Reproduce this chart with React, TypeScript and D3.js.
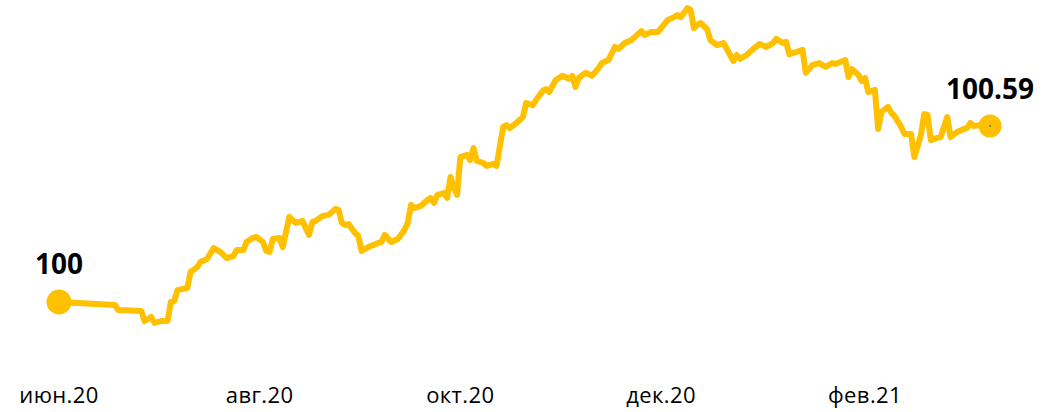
import React from "react";
import * as d3 from "d3";

// days since 1 June 2020 and index level on that day
const startDate = new Date(2020, 5, 1);
const days = [
  0, 17, 18, 25, 26, 28, 29, 31, 33, 34, 35, 36, 39, 40, 42, 43, 45, 47, 49, 51,
  53, 54, 56, 57, 59, 60, 62, 63, 64, 65, 67, 68, 70, 72, 74, 76, 77, 78, 80, 82,
  84, 85, 86, 87, 88, 90, 91, 92, 94, 97, 98, 99, 101, 103, 105, 106, 107, 108, 110, 112,
  113, 114, 115, 117, 118, 119, 120, 121, 122, 124, 125, 126, 127, 129, 130, 132, 133, 135, 136, 137,
  139, 141, 142, 144, 145, 147, 148, 149, 151, 153, 154, 155, 156, 157, 158, 160, 161, 162, 164, 165,
  167, 169, 170, 172, 174, 175, 177, 178, 180, 182, 183, 185, 187, 188, 189, 191, 192, 193, 194, 195,
  197, 198, 200, 202, 205, 206, 207, 209, 211, 213, 215, 217, 218, 220, 221, 222, 224, 226, 227, 229,
  231, 233, 235, 236, 239, 240, 241, 243, 244, 245, 246, 248, 249, 250, 252, 253, 254, 256, 257, 259,
  260, 262, 263, 264, 265, 267, 268, 270, 271, 273, 275, 276, 277, 278, 280, 283,
];
const values = [
  100.0, 99.99, 99.973, 99.97, 99.936, 99.95, 99.93, 99.936, 99.936, 100.0,
  100.003, 100.04, 100.047, 100.101, 100.117, 100.134, 100.144, 100.181, 100.168, 100.147,
  100.154, 100.174, 100.174, 100.201, 100.215, 100.218, 100.201, 100.171, 100.168, 100.211,
  100.215, 100.184, 100.285, 100.265, 100.272, 100.225, 100.268, 100.272, 100.288, 100.292,
  100.312, 100.308, 100.265, 100.258, 100.261, 100.231, 100.221, 100.171, 100.184, 100.198,
  100.201, 100.225, 100.201, 100.211, 100.241, 100.265, 100.325, 100.315, 100.322, 100.342,
  100.349, 100.332, 100.359, 100.365, 100.349, 100.419, 100.385, 100.359, 100.486, 100.493,
  100.476, 100.516, 100.473, 100.466, 100.456, 100.463, 100.456, 100.587, 100.593, 100.583,
  100.6, 100.62, 100.667, 100.66, 100.677, 100.707, 100.714, 100.704, 100.744, 100.758,
  100.754, 100.748, 100.758, 100.721, 100.751, 100.768, 100.764, 100.758, 100.784, 100.801,
  100.811, 100.855, 100.848, 100.868, 100.878, 100.888, 100.908, 100.895, 100.905, 100.905,
  100.918, 100.945, 100.955, 100.962, 100.955, 100.985, 100.979, 100.918, 100.929, 100.935,
  100.915, 100.878, 100.861, 100.868, 100.808, 100.828, 100.815, 100.828, 100.848, 100.865,
  100.855, 100.868, 100.882, 100.868, 100.872, 100.831, 100.838, 100.845, 100.768, 100.794,
  100.801, 100.788, 100.801, 100.798, 100.811, 100.754, 100.781, 100.761, 100.741, 100.751,
  100.704, 100.711, 100.58, 100.637, 100.654, 100.634, 100.623, 100.587, 100.563, 100.563,
  100.486, 100.56, 100.63, 100.627, 100.543, 100.55, 100.553, 100.62, 100.553, 100.57,
  100.58, 100.583, 100.6, 100.59, 100.593, 100.59,
];
const tickMonths = [
  new Date(2020, 5, 1),
  new Date(2020, 7, 1),
  new Date(2020, 9, 1),
  new Date(2020, 11, 1),
  new Date(2021, 1, 1),
];
const tickLabels = ["июн.20", "авг.20", "окт.20", "дек.20", "фев.21"];
const startLabel = "100";
const endLabel = "100.59";

const width = 1058;
const height = 412;
const color = "#FFC000";

export default function App() {
  const data = days.map((d, i) => ({ date: d3.timeDay.offset(startDate, d), value: values[i] }));

  const x = d3
    .scaleTime()
    .domain([tickMonths[0], tickMonths[tickMonths.length - 1]])
    .range([59, 865]);
  const y = d3.scaleLinear().domain([100, 100.59]).range([302, 126]);

  const line = d3
    .line<{ date: Date; value: number }>()
    .x((d) => x(d.date))
    .y((d) => y(d.value));

  const first = data[0];
  const last = data[data.length - 1];

  return (
    <svg
      width={width}
      height={height}
      style={{ position: "absolute", left: 0, top: 0, background: "#fff" }}
      fontFamily="'Open Sans', 'Noto Sans', sans-serif"
    >
      <path
        d={line(data) ?? ""}
        fill="none"
        stroke={color}
        strokeWidth={6}
        strokeLinejoin="round"
        strokeLinecap="round"
      />
      <circle cx={x(first.date)} cy={y(first.value)} r={12.5} fill={color} />
      <circle cx={x(last.date)} cy={y(last.value)} r={11.5} fill={color} />
      <circle cx={x(last.date)} cy={y(last.value)} r={1} fill="#4472C4" />

      <text
        x={x(first.date)}
        y={y(first.value) - 28}
        textAnchor="middle"
        fontSize={28}
        fontWeight="bold"
        fill="#000"
      >
        {startLabel}
      </text>
      <text
        x={x(last.date)}
        y={y(last.value) - 27}
        textAnchor="middle"
        fontSize={28}
        fontWeight="bold"
        fill="#000"
      >
        {endLabel}
      </text>

      {tickMonths.map((m, i) => (
        <text
          key={i}
          x={x(m)}
          y={403}
          textAnchor="middle"
          fontSize={22}
          letterSpacing={0.4}
          fill="#000"
        >
          {tickLabels[i]}
        </text>
      ))}
    </svg>
  );
}
